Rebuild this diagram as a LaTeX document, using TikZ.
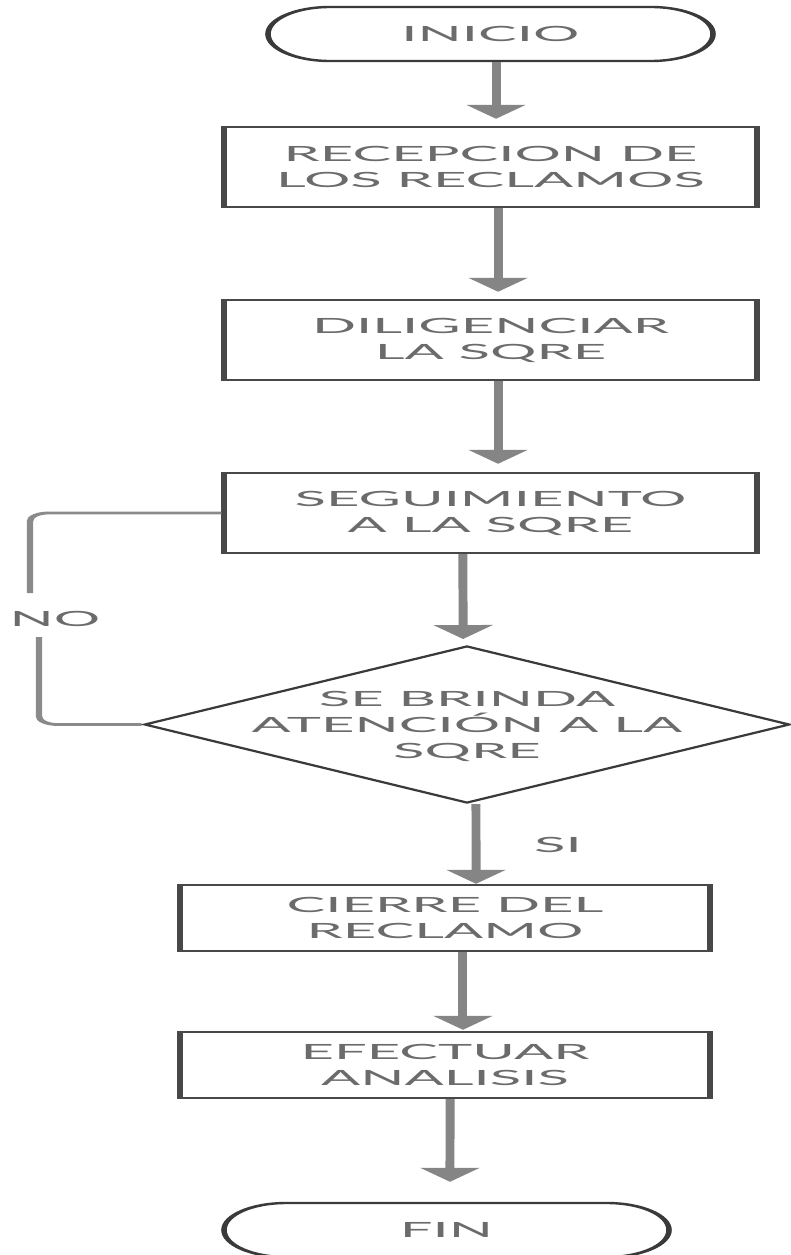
\documentclass[tikz,border=0pt]{standalone}
\usepackage{fontspec}
\setmainfont[FakeStretch=1.2]{Lato}
\usetikzlibrary{arrows.meta,shapes.geometric,shapes.misc}
\definecolor{txtc}{HTML}{6B6B6B}
\definecolor{boxc}{HTML}{484848}
\definecolor{diac}{HTML}{3A3A3A}
\definecolor{arrc}{HTML}{858585}
\definecolor{loopc}{HTML}{8A8A8A}
\begin{document}
\begin{tikzpicture}
\useasboundingbox[fill=white] (0,0) rectangle (790pt,-1255pt);
\begin{scope}[transform canvas={xscale=2.3}, x=0.434783pt, y=-1pt,
  lbl/.style={text=txtc, font=\fontsize{21}{26}\selectfont, align=center, inner sep=0pt},
  term/.style={rounded rectangle, draw=diac, line width=2.4pt, minimum width=193.5pt, minimum height=54pt, lbl},
  stepbox/.style={rectangle, draw=boxc, line width=2.4pt, minimum width=231.7pt, minimum height=80pt, lbl},
  smallbox/.style={rectangle, draw=boxc, line width=2.4pt, minimum width=230.4pt, minimum height=66pt, lbl},
  dia/.style={diamond, draw=diac, line width=2pt, minimum width=280.9pt, minimum height=157pt, inner sep=0pt},
  arr/.style={draw=arrc, line width=3.9pt, -{Triangle[width=25pt,length=14pt]}},
  loopline/.style={draw=loopc, line width=2.8pt}]
  \node[term] (ini) at (490.5,34) {INICIO};
  \node[stepbox] (rec) at (490.5,167) {RECEPCION DE\\LOS RECLAMOS};
  \node[stepbox] (dil) at (490.5,340) {DILIGENCIAR\\LA SQRE};
  \node[stepbox] (seg) at (490.5,513) {SEGUIMIENTO\\A LA SQRE};
  \node[dia] (dec) at (467,724.5) {};
  \node[lbl] (dect) at (467,726.5) {SE BRINDA\\ATENCIÓN A LA\\SQRE};
  \node[smallbox] (cie) at (445,918) {CIERRE DEL\\RECLAMO};
  \node[smallbox] (efe) at (445,1065) {EFECTUAR\\ANALISIS};
  \node[term] (fin) at (446.5,1230) {FIN};
  \node[lbl] (si) at (558,845) {SI};
  \node[lbl] (no) at (55,619) {NO};
  \coordinate (n1) at (30,593);
  \coordinate (n2) at (39,637);
  \draw[arr] ([xshift=2.4pt]ini.south) -- ([xshift=2.4pt,yshift=7pt]rec.north);
  \draw[arr] ([xshift=3.3pt]rec.south) -- ([xshift=3.3pt,yshift=7pt]dil.north);
  \draw[arr] ([xshift=3.3pt]dil.south) -- ([xshift=3.3pt,yshift=8pt]seg.north);
  \draw[arr] ([xshift=-12pt]seg.south) -- ([xshift=-1.7pt,yshift=6pt]dec.north);
  \draw[arr] ([xshift=3.9pt]dec.south) -- ([xshift=13.5pt]cie.north);
  \draw[arr] ([xshift=7.8pt]cie.south) -- ([xshift=7.8pt,yshift=1pt]efe.north);
  \draw[arr] ([xshift=2.2pt]efe.south) -- ([xshift=1.5pt,yshift=20pt]fin.north);
  \draw[loopline, rounded corners=8pt] (seg.west) -| (n1);
  \draw[loopline, rounded corners=8pt] (n2) |- (dec.west);
\end{scope}
\end{tikzpicture}
\end{document}
